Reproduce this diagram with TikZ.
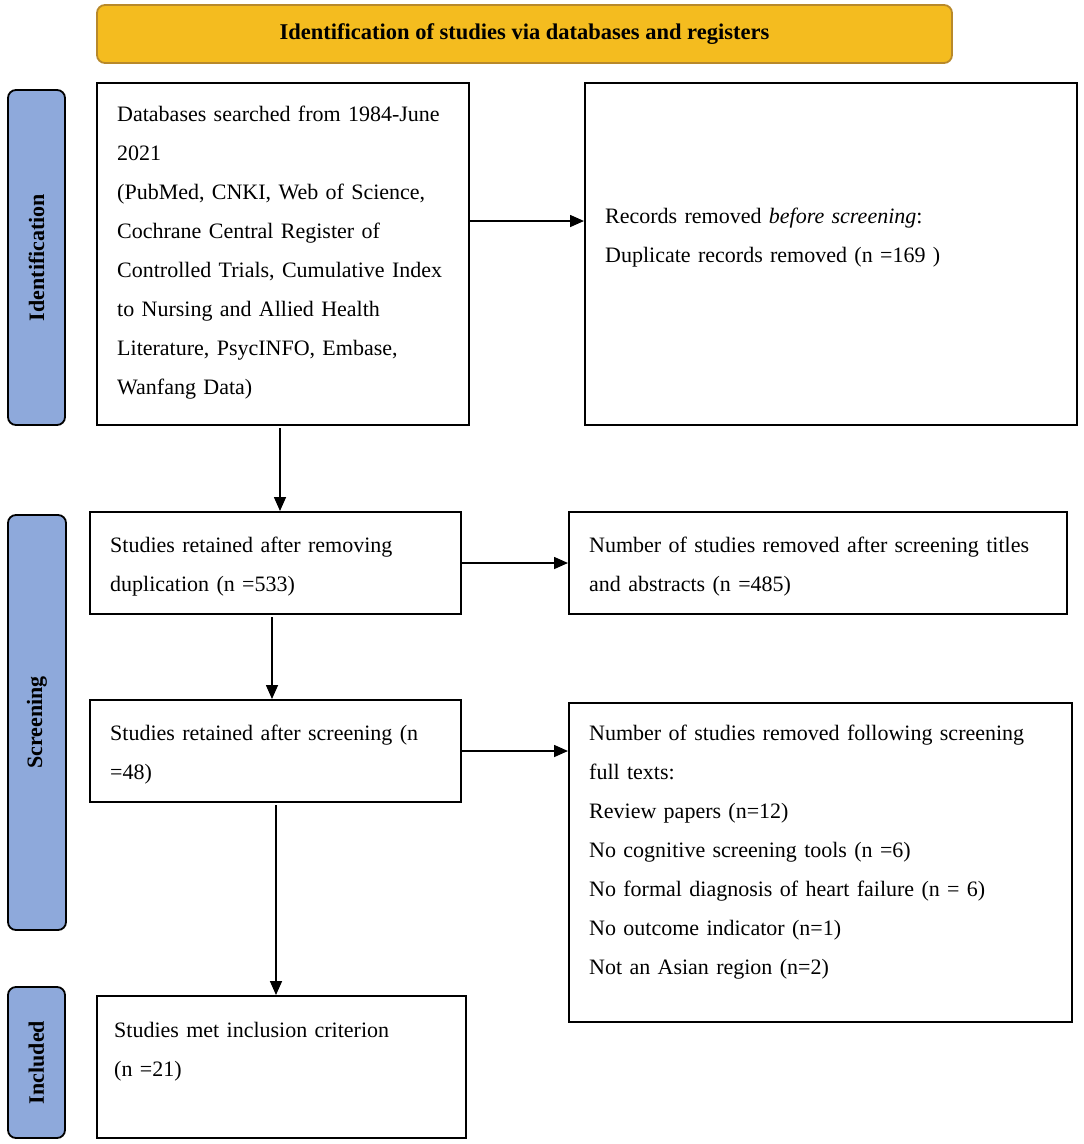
\documentclass[tikz,border=0pt]{standalone}
\usepackage{fontspec}
\setmainfont{Liberation Serif}
\usetikzlibrary{arrows.meta}
\definecolor{bannerfill}{HTML}{F4BC1F}
\definecolor{bannerline}{HTML}{B8892A}
\definecolor{barfill}{HTML}{8EA9DB}
\begin{document}
\begin{tikzpicture}[x=1pt,y=-1pt,
  box/.style={draw,line width=2pt,inner sep=0pt},
  bar/.style={draw,line width=1.8pt,rounded corners=8pt,fill=barfill,rotate=90,font=\fontsize{22}{26}\selectfont\bfseries},
  txt/.style={anchor=base west,align=left,text width=500pt,inner sep=0pt,font=\fontsize{22}{39}\selectfont},
  arr/.style={-{Triangle[length=14pt,width=12pt]},line width=1.6pt}]
\useasboundingbox (0,0) rectangle (1084,1144);

% banner and phase bars
\node[draw=bannerline,line width=1.8pt,fill=bannerfill,rounded corners=8pt,minimum width=855pt,minimum height=58pt,font=\fontsize{22.5}{27}\selectfont\bfseries] (banner) at (524.5,34) {Identification of studies via databases and registers};
\node[bar,minimum width=335pt,minimum height=57pt] (idbar) at (36.5,257.5) {Identification};
\node[bar,minimum width=415pt,minimum height=58pt] (scbar) at (37,722.5) {Screening};
\node[bar,minimum width=151pt,minimum height=57pt] (inbar) at (36.5,1062.5) {Included};

% boxes
\node[box,minimum width=372pt,minimum height=342pt] (db) at (283,254) {};
\node[box,minimum width=492pt,minimum height=342pt] (rec) at (831,254) {};
\node[box,minimum width=371pt,minimum height=102pt] (ret) at (275.5,563) {};
\node[box,minimum width=498pt,minimum height=102pt] (rem) at (818,563) {};
\node[box,minimum width=371pt,minimum height=102pt] (scr) at (275.5,751) {};
\node[box,minimum width=503pt,minimum height=319pt] (full) at (820.5,862.5) {};
\node[box,minimum width=369pt,minimum height=142pt] (inc) at (281.5,1067) {};

% texts
\node[txt] (dbtext) at (117,121) {Databases searched from 1984-June\\2021\\(PubMed, CNKI, Web of Science,\\Cochrane Central Register of\\Controlled Trials, Cumulative Index\\to Nursing and Allied Health\\Literature, PsycINFO, Embase,\\Wanfang Data)};
\node[txt] (rectext) at (605,223) {Records removed \emph{before screening}:\\Duplicate records removed (n =169 )};
\node[txt] (rettext) at (110,552) {Studies retained after removing\\duplication (n =533)};
\node[txt] (remtext) at (589,552) {Number of studies removed after screening titles\\and abstracts (n =485)};
\node[txt] (scrtext) at (110,740) {Studies retained after screening (n\\=48)};
\node[txt] (fulltext) at (589,740) {Number of studies removed following screening\\full texts:\\Review papers (n=12)\\No cognitive screening tools (n =6)\\No formal diagnosis of heart failure (n = 6)\\No outcome indicator (n=1)\\Not an Asian region (n=2)};
\node[txt] (inctext) at (114,1037) {Studies met inclusion criterion\\(n =21)};

\draw[arr] ([yshift=33pt]db.east) -- ([yshift=33pt]rec.west);
\draw[arr] ([xshift=-3pt,yshift=-2pt]db.south) -- ([xshift=-3pt]db.south |- ret.north);
\draw[arr] (ret.east) -- (rem.west);
\draw[arr] ([xshift=-3.5pt,yshift=-2pt]ret.south) -- ([xshift=-3.5pt]ret.south |- scr.north);
\draw[arr] (scr.east) -- (scr.east -| full.west);
\draw[arr] ([xshift=0.5pt,yshift=-2pt]scr.south) -- ([xshift=0.5pt]scr.south |- inc.north);
\end{tikzpicture}
\end{document}
